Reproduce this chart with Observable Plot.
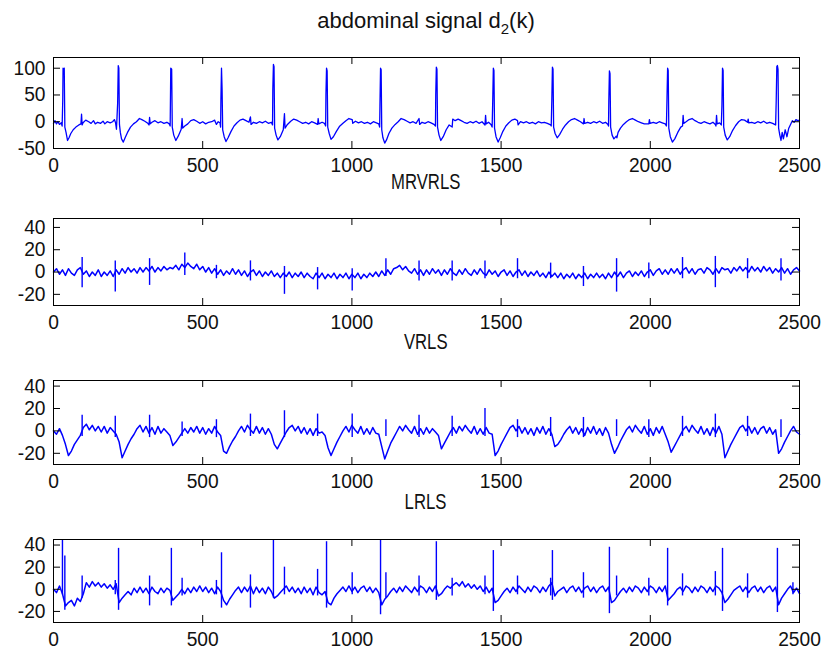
<!DOCTYPE html>
<html><head><meta charset="utf-8">
<script src="https://cdn.jsdelivr.net/npm/d3@7"></script>
<script src="https://cdn.jsdelivr.net/npm/@observablehq/plot@0.6"></script>
<style>
body{margin:0;background:#fff;}
#wrap{position:relative;width:825px;height:652px;font-family:"Liberation Sans",Arial,sans-serif;overflow:hidden;}
.ttl{position:absolute;left:53px;width:746px;text-align:center;font-size:22px;line-height:22px;color:#111;}
.ttl span{display:inline-block;transform-origin:50% 50%;}
.ttl sub{font-size:15px;vertical-align:-6px;line-height:0;}
.pan{position:absolute;left:0;}
</style></head><body>
<div id="wrap">
  <div class="ttl" style="top:10px"><span>abdominal signal d<sub>2</sub>(k)</span></div>
  <div class="ttl" style="top:171px"><span style="transform:scaleX(0.76)">MRVRLS</span></div>
  <div class="ttl" style="top:331px"><span style="transform:scaleX(0.76)">VRLS</span></div>
  <div class="ttl" style="top:491px"><span style="transform:scaleX(0.76)">LRLS</span></div>
  <div class="pan" id="p1" style="top:53px"></div>
  <div class="pan" id="p2" style="top:214px"></div>
  <div class="pan" id="p3" style="top:376px"></div>
  <div class="pan" id="p4" style="top:535px"></div>
</div>
<script>
// ---- tick labels ----
const xTicks = [0, 500, 1000, 1500, 2000, 2500];
const yTicks1 = [-50, 0, 50, 100];
const yTicksN = [-20, 0, 20, 40];

// ---- panel 1: abdominal signal d2(k), [sample, value] ----
const d2Points = [[0,-3],[5,2],[10,-4],[15,0],[20,-5],[26,-2],[29,-8],[31,40],[32,100],[34,96],[36,100],[38,-10],[42,-20],[47,-35],[52,-30],[58,-22],[66,-15],[75,-10],[85,-6],[92,-4],[94,14],[96,-6],[99,-2],[108,3],[118,0],[126,-3],[134,2],[140,-4],[148,-1],[158,-3],[166,1],[172,-4],[180,0],[190,-2],[198,0],[204,4],[208,-2],[211,-14],[213,10],[215,35],[217,105],[219,100],[221,-5],[224,-20],[228,-32],[234,-38],[240,-30],[248,-20],[258,-10],[268,-4],[278,0],[288,6],[296,4],[306,1],[316,-3],[320,-6],[322,8],[324,-4],[330,-1],[340,2],[350,-2],[360,0],[370,-3],[380,-1],[388,-4],[391,-8],[393,100],[396,98],[398,-10],[403,-25],[410,-35],[418,-27],[428,-14],[431,6],[433,-12],[440,-8],[450,-4],[460,2],[470,4],[480,1],[490,-3],[500,0],[510,-4],[520,-1],[530,0],[540,3],[546,-5],[552,0],[558,-2],[560,-10],[561,40],[563,100],[565,60],[567,-15],[572,-28],[578,-37],[585,-30],[595,-18],[605,-8],[615,-2],[625,3],[635,5],[645,2],[655,-1],[660,9],[662,-5],[670,-1],[680,-3],[690,0],[700,-2],[710,1],[720,-3],[730,-1],[734,-6],[735,60],[737,107],[739,103],[741,-12],[746,-25],[752,-34],[760,-28],[770,-15],[774,15],[776,-12],[784,-5],[795,1],[805,5],[815,3],[825,0],[835,-3],[845,-1],[855,-4],[865,0],[875,-2],[885,-5],[887,6],[889,-4],[900,-1],[908,-3],[912,-8],[913,50],[915,100],[917,95],[919,-10],[924,-22],[930,-33],[938,-28],[948,-18],[958,-9],[970,-3],[980,2],[990,6],[1001,4],[1003,-3],[1012,1],[1022,-2],[1032,0],[1042,-3],[1052,-1],[1062,-4],[1072,0],[1082,-2],[1090,-4],[1093,-10],[1094,30],[1096,100],[1098,97],[1100,-15],[1104,-30],[1110,-40],[1116,-34],[1124,-22],[1134,-12],[1145,-5],[1155,0],[1165,6],[1175,4],[1185,1],[1195,-2],[1205,0],[1215,-3],[1225,6],[1227,-5],[1235,-1],[1245,-3],[1255,0],[1265,-2],[1275,-5],[1280,-8],[1281,50],[1283,102],[1285,98],[1287,-10],[1292,-25],[1298,-35],[1306,-28],[1316,-15],[1326,-6],[1336,-10],[1338,5],[1346,2],[1356,5],[1366,2],[1376,-1],[1386,-3],[1396,0],[1406,-2],[1416,1],[1426,-3],[1436,0],[1446,-6],[1448,12],[1450,-4],[1458,-1],[1466,-5],[1470,-10],[1472,40],[1474,100],[1476,96],[1478,-12],[1483,-28],[1490,-38],[1497,-30],[1506,-18],[1516,-8],[1526,-2],[1536,3],[1546,5],[1555,2],[1557,-6],[1565,0],[1575,-2],[1585,0],[1595,-3],[1605,-1],[1615,-4],[1625,0],[1635,-2],[1645,-1],[1655,-3],[1666,-6],[1668,-8],[1670,40],[1672,102],[1674,98],[1676,-10],[1681,-22],[1688,-30],[1696,-24],[1706,-14],[1716,-6],[1726,0],[1736,4],[1746,6],[1756,3],[1766,0],[1776,-4],[1778,6],[1780,-3],[1790,-1],[1800,-3],[1810,0],[1820,-2],[1830,1],[1840,-3],[1850,-1],[1858,-5],[1860,-8],[1861,40],[1863,95],[1865,90],[1867,-10],[1872,-25],[1878,-32],[1886,-27],[1888,-30],[1892,-20],[1900,-12],[1910,-5],[1920,0],[1930,4],[1940,6],[1950,3],[1960,0],[1970,-2],[1980,-4],[1995,-4],[1997,4],[1999,-3],[2010,-1],[2020,-3],[2030,0],[2040,-2],[2050,-4],[2054,-8],[2056,45],[2058,100],[2060,96],[2062,-12],[2067,-28],[2074,-38],[2082,-32],[2092,-20],[2102,-10],[2108,-8],[2110,12],[2112,-3],[2120,0],[2130,4],[2140,6],[2150,2],[2160,-1],[2170,-3],[2180,0],[2190,-2],[2200,-4],[2210,-1],[2218,-5],[2220,-8],[2222,12],[2224,-4],[2232,-2],[2238,-6],[2240,30],[2242,100],[2244,96],[2246,-10],[2251,-25],[2258,-34],[2266,-28],[2276,-16],[2286,-7],[2296,0],[2306,4],[2316,3],[2326,-1],[2328,5],[2330,-2],[2340,-1],[2350,-3],[2360,0],[2370,-2],[2380,1],[2390,-3],[2400,-1],[2410,-3],[2420,-6],[2422,40],[2424,103],[2426,105],[2428,98],[2430,-12],[2434,-25],[2438,-35],[2442,-20],[2446,-32],[2452,-15],[2458,-28],[2464,-12],[2470,-5],[2476,2],[2482,-1],[2488,4],[2494,2],[2500,3]];

// ---- panel 2: MRVRLS, baseline every 10 samples + spikes [sample, top, bottom] ----
const mrvBase = [0,3,-2,2,-3,3,-1,-3,2,4,-2,1,-4,0,-3,2,-4,0,-3,1,-4,2,-2,3,-1,4,0,3,-1,4,
 0,4,1,5,0,4,1,5,2,4, 3,6,2,7,4,8,5,3,7,2, 5,0,4,-1,3,-2,2,-3,1,-2, 3,-2,2,-3,1,-4,0,2,-3,1,
 -4,0,-3,1,-4,-1,-5,-1,-4,0, -5,-1,-4,0,-5,-1,-4,-6,-1,-5, -1,-6,-2,-5,-1,-6,-2,-5,-1,-6,
 -2,-5,-1,-6,-2,-5,-1,-4,0,-4, 1,-3,2,-2,3,4,6,2,5,1, -1,3,-2,2,-3,2,-2,3,-1,2,
 -3,2,-2,3,-1,-3,2,-2,3,-1, -3,2,-2,3,-1,-3,2,-2,1,-4, 0,2,-3,1,-4,0,2,-3,1,-4,
 0,-3,1,-4,-1,-5,0,-4,-1,-5, -1,-6,-2,-5,-1,-6,-2,-5,-1,-6, -2,-5,-1,-5,-2,-6,-1,-5,0,-4,
 0,-5,-1,1,-4,0,-3,1,-4,0, 2,-3,1,3,-2,2,-2,3,-1,3, -2,2,4,-1,3,-2,2,3,-1,4,
 2,-2,3,-1,4,2,3,-1,4,1, 5,1,4,0,5,1,4,0,5,1, 4,-1,3,0,4,-1,3,-2,2,4, 1];
const mrvSpikes = [[96,13,-14],[207,10,-18],[322,12,-12],[440,17,-3],[546,6,-6],[660,10,-8],[774,5,-20],[885,4,-16],[1001,3,-17],[1114,12,-4],[1225,10,-8],[1336,10,-8],[1446,10,-6],[1555,12,-6],[1666,8,-6],[1776,5,-13],[1887,12,-18],[1995,8,-6],[2108,13,-6],[2218,14,-14],[2326,12,-6],[2438,12,-8]];

// ---- panel 3: VRLS ----
const vrlsBase = [0,-3,2,-4,-12,-22,-18,-12,-8,-4, 3,6,1,5,0,4,-1,4,-2,3, 0,-3,-10,-24,-18,-12,-7,-3,2,5,
 -1,4,-2,3,-3,4,-2,2,-1,-4, -13,-10,-6,-2,2,-2,3,-1,4,-2, 3,-3,2,-2,4,-1,-4,-18,-20,-14,
 -9,-5,0,4,-1,5,1,-2,4,-2, 3,-3,2,-3,-12,-16,-11,-6,-1,3, 5,0,4,-2,3,-3,2,-4,2,-2,
 -1,-4,-15,-22,-16,-10,-5,0,4,-1, 5,1,-2,4,-3,2,-3,3,-2,-3, -14,-25,-18,-11,-6,-1,4,0,5,1,
 -2,4,-3,2,-3,3,-2,2,-1,-4, -16,-11,-6,-1,3,-2,4,0,5,1, -2,4,-3,2,-3,3,-2,-3,-22,-18,
 -12,-7,-2,3,5,0,4,-2,3,-3, 2,-4,3,-2,4,-3,2,-3,-14,-12, -8,-3,1,4,-2,3,-3,2,-4,3,
 -2,4,-3,2,-4,3,-2,-12,-20,-15, -9,-4,1,4,-1,5,1,-2,4,-3, 2,-4,3,-2,4,-3,-10,-19,-14,-9,
 -4,1,4,-1,5,1,-2,4,-3,2, -4,3,-2,4,-3,-24,-18,-12,-7,-2, 3,5,0,4,-2,3,-3,2,4,-2,
 3,-3,1,-20,-16,-10,-5,0,4,-1, -3];
const vrlsSpikes = [[96,14,-5],[207,13,-6],[322,14,-6],[431,8,-5],[546,10,-6],[660,15,-5],[774,18,-6],[885,15,-5],[1001,15,-6],[1114,10,-5],[1225,14,-6],[1336,13,-5],[1446,20,-5],[1555,10,-6],[1666,12,-5],[1776,12,-6],[1887,10,-5],[1995,10,-6],[2108,13,-5],[2218,15,-6],[2326,13,-5],[2438,10,-6]];

// ---- panel 4: LRLS ----
const lrlsBase = [0,-3,3,-4,-15,-12,-10,-15,-8,-11, -4,6,2,7,3,6,2,5,1,4, 0,5,-12,-8,-5,-2,-5,1,-3,2,
 -3,1,-4,2,-2,-4,1,-3,1,-1, -10,-7,-4,0,-4,1,-3,2,-2,3, -2,2,-3,1,-4,2,-2,-10,-14,-9,
 -5,-1,2,-3,2,-2,3,-4,2,-3, 1,-4,2,-2,-8,-6,-3,0,3,-2, 2,-3,1,-4,2,-3,1,-5,2,-3,
 -5,-2,-12,-14,-8,-4,-1,2,-2,3, -2,2,-3,1,3,-2,2,-3,1,-3, -14,-9,-6,-2,1,-3,2,-2,3,0,
 -3,2,-2,3,1,-3,2,-2,3,-6, -4,0,3,1,4,6,3,7,2,5, 1,4,0,3,-2,2,-3,1,-12,-10,
 -6,-2,1,-3,2,-2,3,0,-3,2, -2,3,1,-3,2,-2,3,6,-6,-2, 0,2,-3,1,3,-2,2,-3,1,3,
 -2,2,-3,1,3,-2,2,-12,-10,-6, -2,1,-3,2,-2,3,1,-3,2,-2, 3,1,-3,2,-2,3,-10,-7,-4,0,
 2,-2,3,1,-3,2,-2,3,1,-3, 2,-2,3,1,-3,-12,-9,-5,-1,1, 3,-2,2,-3,1,3,-2,2,-3,1,
 3,-2,2,-14,-8,-4,0,3,-3,1, -4];
const lrlsMaternal = [[30,45,-5],[38,30,-19],[218,37,-19],[395,37,-15],[563,33,-17],[737,45,-8],[915,43,-17],[1096,45,-23],[1283,43,-10],[1474,35,-20],[1672,35,-10],[1863,38,-22],[2058,37,-15],[2242,37,-20],[2426,37,-21]];
const lrlsFetal = [[96,12,-8],[207,8,-5],[322,12,-15],[431,10,-6],[546,8,-5],[660,13,-17],[774,20,-5],[885,18,-6],[1001,15,-5],[1114,15,-8],[1225,12,-6],[1336,10,-6],[1446,12,-5],[1555,12,-5],[1666,10,-6],[1776,15,-8],[1887,12,-6],[1995,10,-6],[2108,14,-6],[2218,16,-6],[2326,14,-8],[2478,6,-5]];

// ---- helpers ----
const BLUE = "#0000ff";
const fmt = d => String(d);
const toPts = arr => arr.map(([x, y]) => ({x, y}));
const baseToPts = arr => arr.map((y, i) => ({x: i * 2500 / (arr.length - 1), y}));
const toSpikes = arr => arr.map(([x, hi, lo]) => ({x, hi, lo}));
const ML = 53, MR = 26, MT = 4, MB = 30, W = 825, TICK = 7;
const FW = W - ML - MR;

function panel(el, frameH, yDomain, yTicks, line, spikes, sw) {
  const marks = [Plot.line(line, {x: "x", y: "y", stroke: BLUE, strokeWidth: sw})];
  for (const s of spikes) marks.push(Plot.ruleX(s, {x: "x", y1: "lo", y2: "hi", stroke: BLUE, strokeWidth: 1.4}));
  marks.push(
    // inward tick marks on all four sides (MATLAB style)
    Plot.ruleX(xTicks, {x: d => d, insetTop: frameH - TICK, stroke: "#000", strokeWidth: 1}),
    Plot.ruleX(xTicks, {x: d => d, insetBottom: frameH - TICK, stroke: "#000", strokeWidth: 1}),
    Plot.ruleY(yTicks, {y: d => d, insetRight: FW - TICK, stroke: "#000", strokeWidth: 1}),
    Plot.ruleY(yTicks, {y: d => d, insetLeft: FW - TICK, stroke: "#000", strokeWidth: 1}),
    Plot.axisX(xTicks, {anchor: "bottom", tickSize: 0, tickPadding: 9, tickFormat: fmt, label: null}),
    Plot.axisY(yTicks, {anchor: "left", tickSize: 0, tickPadding: 8, tickFormat: fmt, label: null}),
    Plot.frame({stroke: "#000", strokeWidth: 1})
  );
  const svg = Plot.plot({
    width: W, height: frameH + MT + MB,
    marginLeft: ML, marginRight: MR, marginTop: MT, marginBottom: MB,
    x: {domain: [0, 2500]},
    y: {domain: yDomain},
    style: {fontFamily: "'Liberation Sans', Arial, sans-serif", fontSize: "20px", color: "#111", background: "transparent", overflow: "visible"},
    marks
  });
  // narrow the tick-label glyphs slightly about their anchor
  svg.querySelectorAll("text").forEach(t => {
    const tr = t.getAttribute("transform") || "";
    const x = parseFloat(t.getAttribute("x") || 0);
    t.setAttribute("transform", `${tr} translate(${x},0) scale(0.96,1) translate(${-x},0)`);
  });
  document.getElementById(el).appendChild(svg);
}

panel("p1", 91, [-50, 120], yTicks1, toPts(d2Points), [], 1.3);
panel("p2", 87, [-30, 48], yTicksN, baseToPts(mrvBase), [toSpikes(mrvSpikes)], 1.5);
panel("p3", 84, [-30, 45], yTicksN, baseToPts(vrlsBase), [toSpikes(vrlsSpikes)], 1.5);
panel("p4", 83, [-30, 45], yTicksN, baseToPts(lrlsBase), [toSpikes(lrlsMaternal), toSpikes(lrlsFetal)], 1.5);
</script>
</body></html>
